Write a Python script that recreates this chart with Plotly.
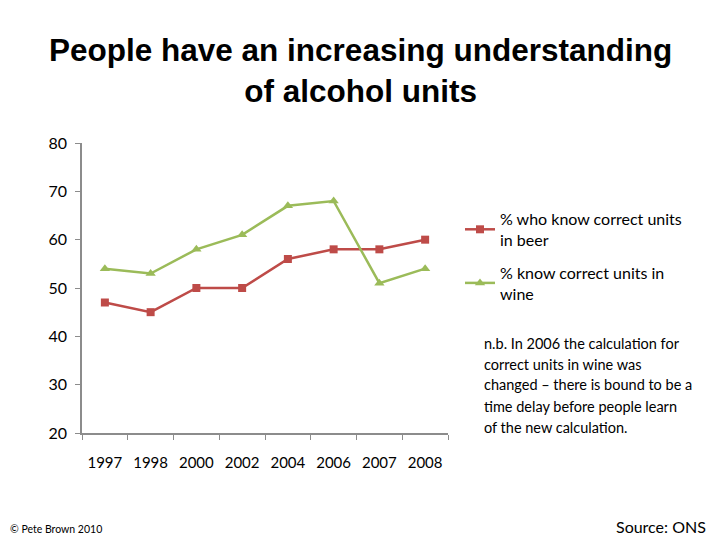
import plotly.graph_objects as go

years = ["1997", "1998", "2000", "2002", "2004", "2006", "2007", "2008"]
beer = [47, 45, 50, 50, 56, 58, 58, 60]
wine = [54, 53, 58, 61, 67, 68, 51, 54]

beer_name = "% who know correct units<br>in beer"
wine_name = "% know correct units in<br>wine"

note_lines = [
    "n.b. In 2006 the calculation for",
    "correct units in wine was",
    "changed \u2013 there is bound to be a",
    "time delay before people learn",
    "of the new calculation.",
]

RED = "#BE4B48"
GREEN = "#9BBB59"
AXIS = "#8C8C8C"

fig = go.Figure()
fig.add_trace(go.Scatter(x=years, y=beer, name=beer_name, mode="lines+markers",
                         legendgroup="beer",
                         line=dict(color=RED, width=2.5),
                         marker=dict(symbol="square", size=8, color=RED)))
fig.add_trace(go.Scatter(x=years, y=wine, name=wine_name, mode="lines+markers",
                         legendgroup="wine",
                         line=dict(color=GREEN, width=2.5),
                         marker=dict(symbol="triangle-up", size=9, color=GREEN)))

fig.update_layout(
    width=720, height=540,
    margin=dict(l=0, r=0, t=0, b=0),
    paper_bgcolor="white", plot_bgcolor="white",
    font=dict(family="Lato, Open Sans, sans-serif", color="black"),
    xaxis=dict(domain=[82 / 720, 448 / 720], type="category", range=[-0.5, 7.5],
               showline=True, linecolor=AXIS, linewidth=1.5,
               ticks="outside", tickson="boundaries", ticklen=5, tickcolor=AXIS,
               showgrid=False, zeroline=False, tickfont=dict(size=15),
               tickangle=0, ticklabelstandoff=15, automargin=False),
    yaxis=dict(domain=[107 / 540, 397 / 540], range=[20, 80], dtick=10,
               showline=True, linecolor=AXIS, linewidth=1.5,
               ticks="outside", ticklen=5, tickcolor=AXIS,
               showgrid=False, zeroline=False, tickfont=dict(size=16),
               ticklabelstandoff=5, automargin=False),
    legend=dict(x=460 / 720, y=1 - 202 / 540, xanchor="left", yanchor="top",
                font=dict(size=16), tracegroupgap=9, itemwidth=30,
                bgcolor="rgba(0,0,0,0)"),
    showlegend=True,
)

fig.add_annotation(text="<b>People have an increasing understanding<br>of alcohol units</b>",
                   xref="paper", yref="paper", x=0.5, y=1 - 30 / 540,
                   xanchor="center", yanchor="top", showarrow=False,
                   font=dict(family="Liberation Sans, Arial, sans-serif", size=31.5, color="black"))

for i, line in enumerate(note_lines):
    fig.add_annotation(text=line, xref="paper", yref="paper",
                       x=482 / 720, y=1 - (343 + 21 * i) / 540,
                       xanchor="left", yanchor="middle", align="left", showarrow=False,
                       font=dict(size=14.5))

fig.add_annotation(text="\u00a9 Pete Brown 2010", xref="paper", yref="paper",
                   x=8 / 720, y=1 - 529 / 540, xanchor="left", yanchor="middle",
                   showarrow=False, font=dict(size=10.5))
fig.add_annotation(text="Source: ONS", xref="paper", yref="paper",
                   x=708 / 720, y=1 - 526 / 540, xanchor="right", yanchor="middle",
                   showarrow=False, font=dict(size=16))

fig.write_html("out.html", config={"displayModeBar": False},
               post_script="document.body.style.margin='0';")
